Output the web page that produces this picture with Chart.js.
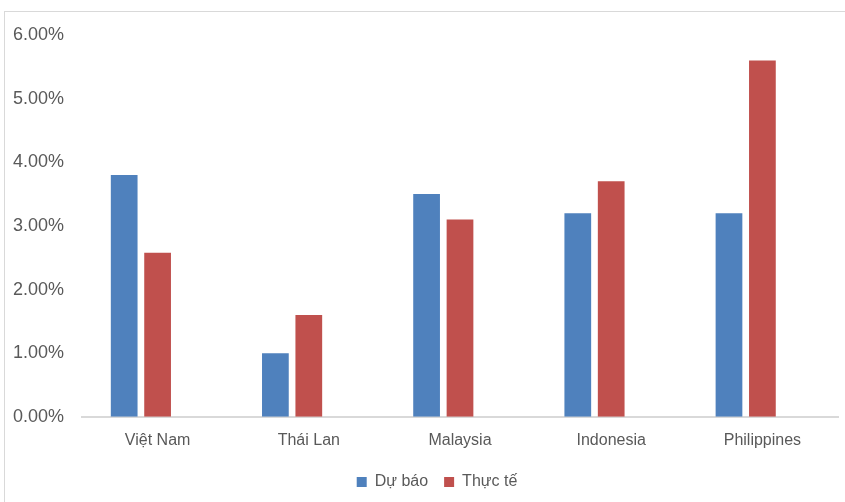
<!DOCTYPE html>
<html>
<head>
<meta charset="utf-8">
<script src="https://cdn.jsdelivr.net/npm/chart.js@4.4.1/dist/chart.umd.min.js"></script>
<style>
  html, body { margin: 0; padding: 0; background: #fff; overflow: hidden; }
  #frame {
    position: absolute; left: 4px; top: 11px; width: 900px; height: 560px;
    border-left: 1px solid #d9d9d9; border-top: 1px solid #d9d9d9;
  }
  #wrap { position: absolute; left: 0; top: 0; width: 845px; height: 502px; }
</style>
</head>
<body>
<div id="frame"></div>
<div id="wrap"><canvas id="c" width="845" height="502"></canvas></div>
<script>
// Countries on the category axis
const countries = ['Việt Nam', 'Thái Lan', 'Malaysia', 'Indonesia', 'Philippines'];
// Growth rates, in percent
const forecast = [3.8, 1.0, 3.5, 3.2, 3.2];   // Dự báo
const actual   = [2.58, 1.6, 3.1, 3.7, 5.6];  // Thực tế
// Third series slot of the workbook, left empty
const spare    = [null, null, null, null, null];
// Value axis
const yMin = 0, yMax = 6, yStep = 1;

const textColor = '#595959';
const fontFamily = "'Liberation Sans', Arial, sans-serif";

// Centre the legend under the plot area rather than the whole canvas
const legendUnderPlot = {
  id: 'legendUnderPlot',
  afterLayout(chart) {
    const lg = chart.legend;
    if (!lg) return;
    const dx = (chart.chartArea.left + chart.chartArea.right) / 2 - (lg.left + lg.right) / 2 - 23;
    lg.left += dx;
    lg.right += dx;
    lg.top -= 2;
    lg.bottom -= 2;
  }
};

new Chart(document.getElementById('c'), {
  type: 'bar',
  data: {
    labels: countries,
    datasets: [
      { label: 'Dự báo', data: forecast, backgroundColor: '#4F81BD' },
      { label: 'Thực tế', data: actual, backgroundColor: '#C0504D' },
      { label: '', data: spare, backgroundColor: 'rgba(0,0,0,0)' }
    ]
  },
  plugins: [legendUnderPlot],
  options: {
    responsive: false,
    animation: false,
    devicePixelRatio: 1,
    datasets: { bar: { categoryPercentage: 0.663, barPercentage: 0.8 } },
    layout: { padding: { left: 0, right: 7, top: 35, bottom: 0 } },
    plugins: {
      tooltip: { enabled: false },
      legend: {
        position: 'bottom',
        labels: {
          filter: (item) => item.text !== '',
          boxWidth: 10, boxHeight: 10,
          color: textColor,
          font: { family: fontFamily, size: 16 },
          padding: 16
        }
      }
    },
    scales: {
      x: {
        grid: { display: false, drawTicks: false },
        border: { display: true, color: '#d9d9d9', width: 2 },
        ticks: { color: textColor, font: { family: fontFamily, size: 16 }, padding: 14, maxRotation: 0 },
        afterFit: (scale) => { scale.height -= 4; }
      },
      y: {
        min: yMin, max: yMax,
        grid: { display: false, drawTicks: false },
        border: { display: false },
        ticks: {
          stepSize: yStep,
          color: textColor,
          font: { family: fontFamily, size: 18 },
          padding: 18,
          callback: (v) => v.toFixed(2) + '%'
        },
        afterFit: (scale) => { scale.width = 82; }
      }
    }
  }
});
</script>
</body>
</html>
